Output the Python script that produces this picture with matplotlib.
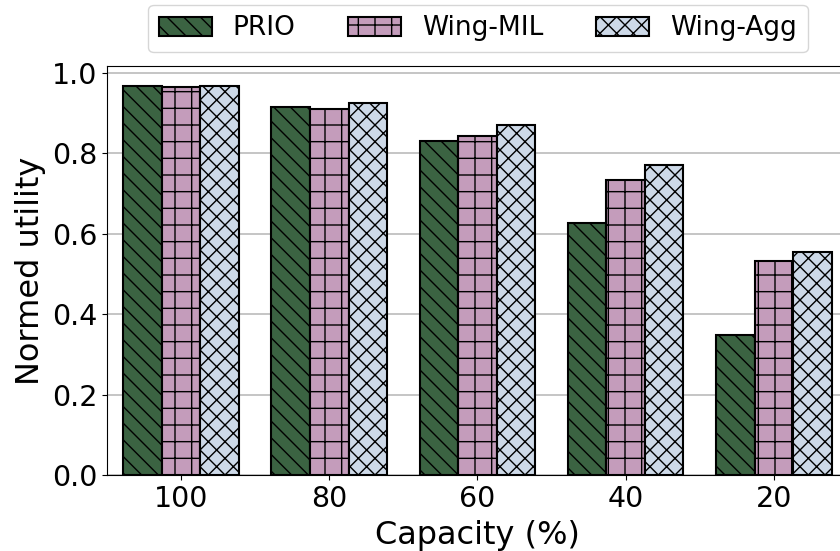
import numpy as np
import matplotlib.pyplot as plt

# data
capacity = ["100", "80", "60", "40", "20"]
prio = [0.968, 0.916, 0.831, 0.626, 0.347]
wing_mil = [0.965, 0.911, 0.844, 0.734, 0.531]
wing_agg = [0.968, 0.926, 0.871, 0.772, 0.554]

series = [("PRIO", prio, "#3b6342", "\\\\"),
          ("Wing-MIL", wing_mil, "#c49cbb", "+"),
          ("Wing-Agg", wing_agg, "#cdd9e8", "xx")]

fig = plt.figure(figsize=(8.4, 5.51), dpi=100)
ax = fig.add_axes([0.1274, 0.138, 0.882, 0.742])

x = np.arange(len(capacity))
width = 0.26
for i, (name, vals, color, hatch) in enumerate(series):
    ax.bar(x + (i - 1) * width, vals, width, label=name, color=color,
           edgecolor="black", linewidth=1.5, hatch=hatch, zorder=3)

ax.set_xlim(-0.5, 4.5)
ax.set_ylim(0, 1.017)
ax.set_xticks(x)
ax.set_xticklabels(capacity)
ax.set_yticks([0.0, 0.2, 0.4, 0.6, 0.8, 1.0])
ax.tick_params(labelsize=20.5)
ax.yaxis.grid(True, color="#bbbbbb", linewidth=1.2, zorder=0)
ax.set_axisbelow(True)

ax.set_xlabel("Capacity (%)", fontsize=23, labelpad=5)
ax.set_ylabel("Normed utility", fontsize=23, labelpad=4)

ax.legend(loc="upper center", bbox_to_anchor=(0.569, 1.003), bbox_transform=fig.transFigure,
          ncol=3, fontsize=19, handlelength=2.0, handleheight=0.75,
          columnspacing=2.0, borderaxespad=0.25)

plt.savefig("out.png", dpi=100)
